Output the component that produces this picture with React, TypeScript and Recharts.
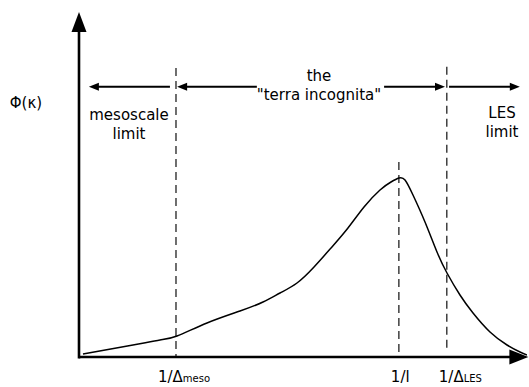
import { Line, LineChart, ReferenceDot, ReferenceLine, XAxis, YAxis } from "recharts";

// spectrum curve (k and phi both on a 0..100 scale)
const spectrumK = [0.89, 12.05, 18.08, 21.88, 28.57, 35.94, 41.07, 44.87, 48.66, 52.46, 56.25, 60.04, 63.62, 67.19, 69.64, 71.43, 72.77, 74.55, 77.23, 79.91, 82.14, 85.04, 87.95, 91.74, 95.54, 98.44, 100];
const spectrumPhi = [0.87, 3.48, 4.93, 6.09, 9.86, 13.33, 15.94, 18.55, 21.45, 26.09, 31.59, 37.39, 43.48, 48.41, 50.72, 51.88, 51.3, 46.96, 39.13, 30.43, 24.35, 17.97, 12.75, 7.25, 3.48, 1.45, 0.58];

// dashed scale markers
const scaleNames = ["meso", "l", "LES"];
const scaleK = [21.65, 71.4, 82.1];
const dashTop = [83.8, 56.5, 84.1];
const dashBottom = [0, 1.4, 1.4];

// range arrows above the curve
const arrowPhi = 78.3;
const arrowFrom = [20.3, 39.7, 68.1, 82.6];
const arrowTo = [2.2, 21.9, 81.7, 98.4];

// text notes (k, phi of first baseline)
const noteLines = [["mesoscale", "limit"], ["the", "\"terra incognita\""], ["LES", "limit"], ["Φ(κ)"]];
const noteK = [11.16, 53.57, 94.42, -11.83];
const notePhi = [68.7, 80.0, 69.3, 72.2];

const data = spectrumK.map((k, i) => ({ k, phi: spectrumPhi[i] }));
const FONT = "DejaVu Sans, sans-serif";

function Arrow(props: any) {
  const { x1, y1, x2, y2, head, half, width } = props;
  const dx = x2 - x1;
  const dy = y2 - y1;
  const len = Math.hypot(dx, dy) || 1;
  const ux = dx / len;
  const uy = dy / len;
  const bx = x2 - ux * head;
  const by = y2 - uy * head;
  return (
    <g>
      <line x1={x1} y1={y1} x2={bx + ux} y2={by + uy} stroke="#000" strokeWidth={width} />
      <polygon
        points={`${x2},${y2} ${bx - uy * half},${by + ux * half} ${bx + uy * half},${by - ux * half}`}
        fill="#000"
      />
    </g>
  );
}

function Note({ cx, cy, lines }: { cx?: number; cy?: number; lines: string[] }) {
  if (cx == null || cy == null) return null;
  return (
    <text x={cx} y={cy} textAnchor="middle" fontSize={15} fontFamily={FONT} fill="#000">
      {lines.map((t, i) => (
        <tspan key={t + i} x={cx} dy={i === 0 ? 0 : 19}>
          {t}
        </tspan>
      ))}
    </text>
  );
}

const tickShift: Record<string, number> = { meso: -18, l: -8, LES: -8 };

function ScaleTick(props: any) {
  const { x, y, payload } = props;
  const name = scaleNames[scaleK.indexOf(payload.value)];
  if (name === undefined) return null;
  return (
    <text x={x + tickShift[name]} y={y + 17} fontFamily={FONT} fill="#000">
      <tspan fontSize={15}>{name === "l" ? "1/l" : "1/Δ"}</tspan>
      {name !== "l" && <tspan fontSize={10}>{name}</tspan>}
    </text>
  );
}

export default function App() {
  return (
    <div style={{ position: "absolute", left: 0, top: 0, width: 529, height: 387, background: "#fff" }}>
      <LineChart
        width={529}
        height={387}
        data={data}
        margin={{ top: 12, right: 2, bottom: 0, left: 0 }}
        style={{ fontFamily: FONT }}
      >
        <XAxis
          dataKey="k"
          type="number"
          domain={[0, 100]}
          ticks={scaleK}
          height={30}
          axisLine={false}
          tickLine={false}
          tick={<ScaleTick />}
          interval={0}
          allowDataOverflow
        />
        <YAxis type="number" domain={[0, 100]} width={79} axisLine={false} tickLine={false} tick={false} allowDataOverflow />

        {scaleK.map((k, i) => (
          <ReferenceLine
            key={`dash-${i}`}
            segment={[{ x: k, y: dashTop[i] }, { x: k, y: dashBottom[i] }]}
            stroke="#222"
            strokeWidth={1.3}
            strokeDasharray="8 5"
            ifOverflow="visible"
          />
        ))}

        {arrowFrom.map((k, i) => (
          <ReferenceLine
            key={`arrow-${i}`}
            segment={[{ x: k, y: arrowPhi }, { x: arrowTo[i], y: arrowPhi }]}
            ifOverflow="visible"
            shape={(p: any) => <Arrow {...p} head={10} half={4} width={2} />}
          />
        ))}

        <ReferenceLine
          segment={[{ x: 0, y: 0 }, { x: 100.3, y: 0 }]}
          ifOverflow="visible"
          shape={(p: any) => <Arrow {...p} head={19} half={7.5} width={2.6} />}
        />
        <ReferenceLine
          segment={[{ x: 0, y: -0.4 }, { x: 0, y: 100 }]}
          ifOverflow="visible"
          shape={(p: any) => <Arrow {...p} head={20} half={7.5} width={2.6} />}
        />

        <Line
          type="natural"
          dataKey="phi"
          stroke="#000"
          strokeWidth={1.5}
          dot={false}
          activeDot={false}
          isAnimationActive={false}
        />

        {noteLines.map((lines, i) => (
          <ReferenceDot
            key={`note-${i}`}
            x={noteK[i]}
            y={notePhi[i]}
            r={1}
            ifOverflow="visible"
            shape={(p: any) => <Note cx={p.cx} cy={p.cy} lines={lines} />}
          />
        ))}
      </LineChart>
    </div>
  );
}
